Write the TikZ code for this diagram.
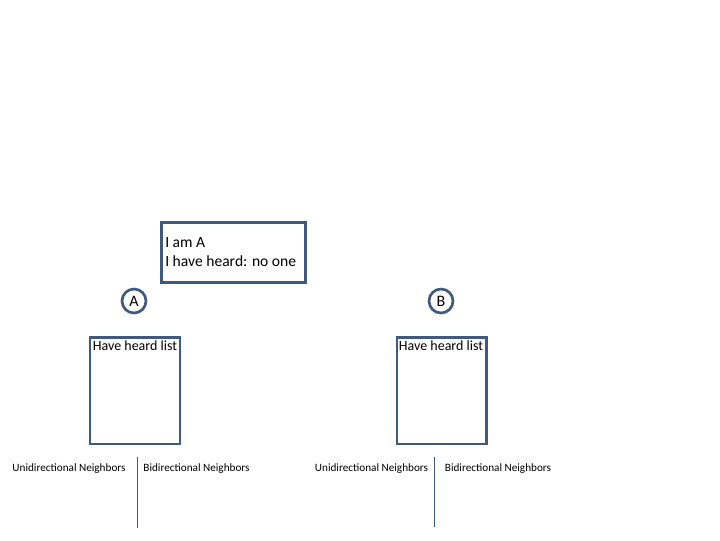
\documentclass[tikz,border=0pt]{standalone}
\usepackage{fontspec}
\setmainfont{Carlito}
\definecolor{edge}{HTML}{3F5A7C}
\begin{document}
\begin{tikzpicture}[x=0.75pt,y=-0.75pt,
  boxline/.style={draw=edge,line width=2pt},
  nodecirc/.style={circle,draw=edge,line width=2pt,minimum size=18pt,inner sep=0pt,font=\fontsize{12pt}{14pt}\selectfont},
  listtitle/.style={font=\fontsize{10.5pt}{12pt}\selectfont,inner sep=0pt},
  nbr/.style={font=\fontsize{8.4pt}{10pt}\selectfont,inner sep=0pt},
  divider/.style={draw=edge,line width=0.6pt}]
\useasboundingbox (0,0) rectangle (720,540);
% message box
\node[boxline,rectangle,minimum width=108pt,minimum height=45pt,inner sep=0pt] (msg) at (233.5,252.5) {};
\node[anchor=west,align=left,inner sep=0pt,font=\fontsize{11.7pt}{14.3pt}\selectfont] (msgtxt) at (165,252.5) {I am A\\I have heard: no one};
% nodes
\node[nodecirc] (A) at (134,301) {A};
\node[nodecirc] (B) at (441,301) {B};
% have heard lists
\node[boxline,rectangle,minimum width=67.5pt,minimum height=80pt,inner sep=0pt] (listA) at (135,390.5) {};
\node[boxline,rectangle,minimum width=67pt,minimum height=80pt,inner sep=0pt] (listB) at (441.5,390.5) {};
\node[listtitle] (tA) at (135,345.5) {Have heard list};
\node[listtitle] (tB) at (441,345.5) {Have heard list};
% neighbor labels
\node[nbr] (uA) at (69,468.5) {Unidirectional Neighbors};
\node[nbr] (bA) at (196.5,468.5) {Bidirectional Neighbors};
\node[nbr] (uB) at (371.5,468.5) {Unidirectional Neighbors};
\node[nbr] (bB) at (498,468.5) {Bidirectional Neighbors};
\coordinate (dA1) at (137,457);
\coordinate (dA2) at (137,528);
\coordinate (dB1) at (434,457);
\coordinate (dB2) at (434,527);
\draw[divider] (dA1) -- (dA2);
\draw[divider] (dB1) -- (dB2);
\end{tikzpicture}
\end{document}
